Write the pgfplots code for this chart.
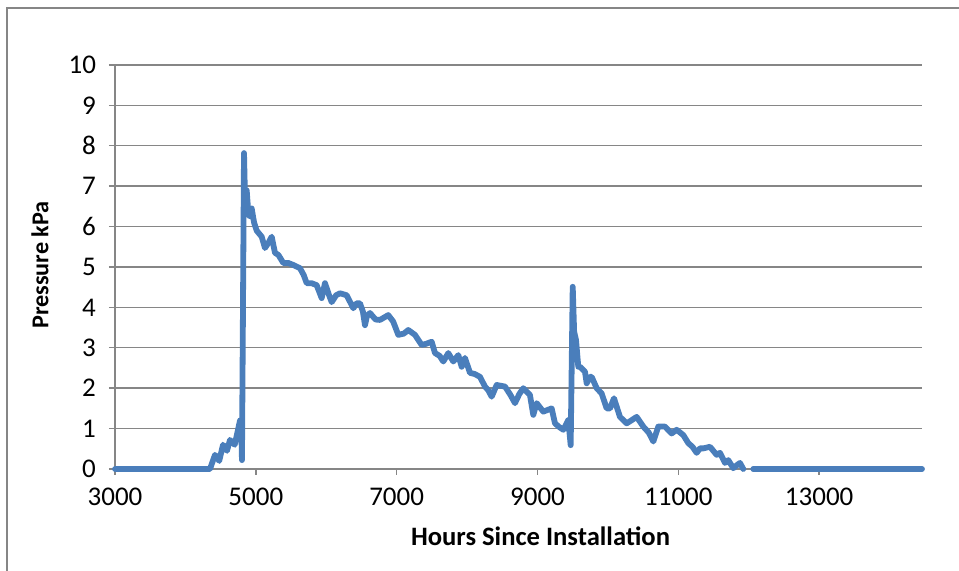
\documentclass[border=0pt]{standalone}
\usepackage{fontspec}
\setmainfont{Carlito}
\usepackage{pgfplots}
\pgfplotsset{compat=1.18}
\definecolor{exblue}{RGB}{74,126,187}
\definecolor{exgray}{RGB}{134,134,134}
\begin{document}
\begin{tikzpicture}
\useasboundingbox (-57.5pt,-51pt) rectangle (422pt,234.5pt);
\draw[exgray, line width=0.6pt] (-54pt,-60pt) -- (-54pt,230.5pt) -- (430pt,230.5pt);
\begin{axis}[
  at={(0pt,0pt)}, anchor=origin,
  scale only axis, width=403.5pt, height=202pt,
  xmin=3000, xmax=14460, ymin=0, ymax=10,
  xtick={3000,5000,7000,9000,11000,13000},
  ytick={0,1,...,10},
  scaled ticks=false,
  axis lines=left, axis line style={-, exgray, line width=0.7pt},
  tick style={exgray, line width=0.7pt},
  tick align=outside, major tick length=3pt,
  ymajorgrids, grid style={exgray, line width=0.7pt},
  x tick label style={font=\fontsize{13.5}{15}\selectfont, yshift=-3pt},
  y tick label style={font=\fontsize{13.5}{15}\selectfont, xshift=-3pt},
  /pgf/number format/assume math mode=true,
  /pgf/number format/1000 sep={},
  xlabel={\textbf{Hours Since Installation}},
  ylabel={\textbf{Pressure kPa}},
  xlabel style={font=\fontsize{13.3}{15}\selectfont, at={(axis description cs:0.5,0)}, anchor=center, yshift=-33.5pt, xshift=11pt},
  ylabel style={font=\fontsize{12.1}{14}\selectfont, at={(axis description cs:0,0.5)}, anchor=center, yshift=37.5pt, xshift=1pt},
  clip=false,
]
\addplot[exblue, line width=2.9pt, line join=round, line cap=round] coordinates {
(3000,0) (4349,0) (4420,0.35) (4480,0.2) (4534,0.6) (4590,0.45) (4633,0.72) (4700,0.6) (4747,0.97) (4775,1.2) (4795,0.9) (4803,0.22) (4832,7.82) (4850,6.4) (4870,6.9) (4895,6.3) (4917,6.25) (4941,6.45) (4975,6.1) (5012,5.9) (5083,5.75) (5130,5.47) (5180,5.6) (5225,5.75) (5272,5.35) (5320,5.3) (5390,5.1) (5460,5.1) (5532,5.05) (5627,4.97) (5680,4.8) (5722,4.6) (5790,4.6) (5864,4.55) (5935,4.23) (5982,4.6) (6030,4.35) (6077,4.13) (6140,4.3) (6195,4.35) (6290,4.3) (6384,3.98) (6430,4.1) (6479,4.1) (6520,3.9) (6550,3.56) (6580,3.8) (6621,3.86) (6700,3.7) (6763,3.69) (6881,3.81) (6950,3.65) (7023,3.32) (7100,3.35) (7165,3.44) (7260,3.32) (7355,3.07) (7420,3.1) (7497,3.15) (7544,2.87) (7610,2.8) (7662,2.66) (7733,2.87) (7804,2.66) (7875,2.82) (7923,2.53) (7970,2.75) (8041,2.38) (8110,2.35) (8183,2.28) (8254,2.04) (8300,1.95) (8349,1.79) (8420,2.08) (8538,2.04) (8610,1.85) (8680,1.63) (8740,1.85) (8798,2.0) (8893,1.83) (8940,1.34) (8988,1.63) (9082,1.42) (9201,1.5) (9248,1.13) (9300,1.05) (9366,0.97) (9437,1.21) (9471,0.59) (9500,4.51) (9520,3.4) (9547,3.19) (9579,2.53) (9603,2.53) (9650,2.45) (9674,2.41) (9698,2.12) (9745,2.28) (9769,2.28) (9840,2.0) (9911,1.87) (9982,1.5) (10029,1.5) (10086,1.75) (10171,1.29) (10266,1.13) (10330,1.2) (10408,1.29) (10502,1.05) (10580,0.9) (10645,0.68) (10715,1.05) (10810,1.05) (10905,0.88) (10976,0.97) (11070,0.84) (11141,0.64) (11200,0.55) (11260,0.4) (11307,0.51) (11354,0.51) (11449,0.55) (11544,0.35) (11591,0.4) (11662,0.15) (11709,0.22) (11780,0.02) (11850,0.12) (11875,0.15) (11922,0)
};
\addplot[exblue, line width=2.9pt, line cap=round] coordinates {(12064,0) (14460,0)};
\end{axis}
\end{tikzpicture}
\end{document}
